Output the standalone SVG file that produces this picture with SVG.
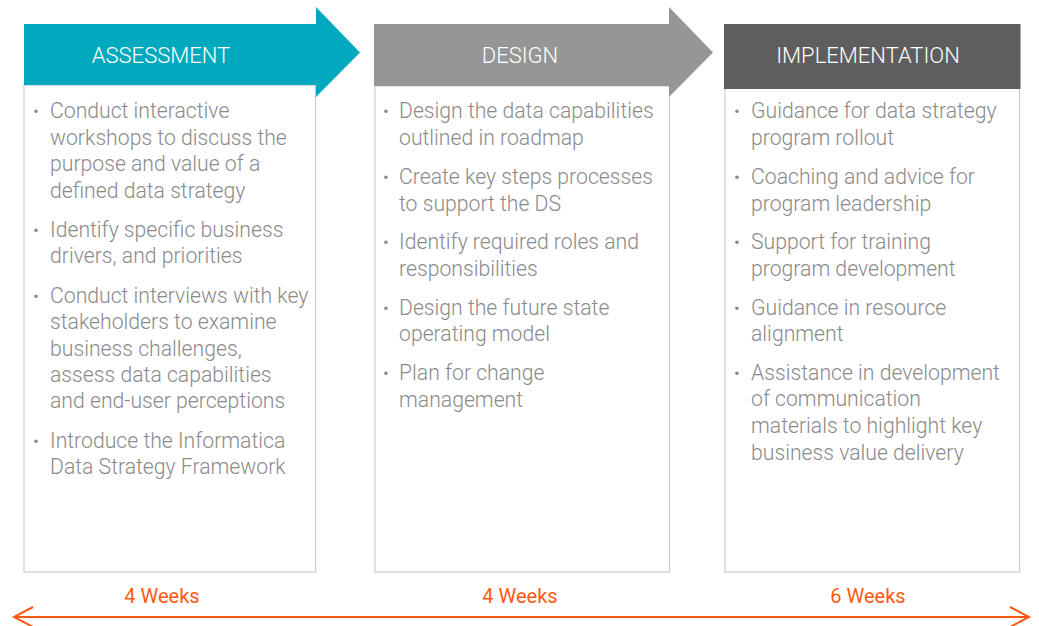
<svg xmlns="http://www.w3.org/2000/svg" width="1039" height="626" viewBox="0 0 1039 626">
  <style>
    .box { fill: #ffffff; stroke: #cccccc; stroke-width: 1.2; }
    .head { font-family: Roboto, "Liberation Sans", sans-serif; font-weight: 300; font-size: 22px; fill: #ffffff; text-anchor: middle; }
    .body { font-family: Roboto, "Liberation Sans", sans-serif; font-weight: 300; font-size: 21.2px; fill: #8a8a8a; }
    .dot { font-family: Roboto, "Liberation Sans", sans-serif; font-size: 17px; fill: #8a8a8a; }
    .dur { font-family: Roboto, "Liberation Sans", sans-serif; font-weight: 400; font-size: 20px; fill: #ff5a14; text-anchor: middle; }
    .timeline { stroke: #ff5a14; stroke-width: 2; fill: none; }
  </style>
  <rect width="1039" height="626" fill="#ffffff"/>

  <!-- Phase 1 -->
  <g id="assessment">
    <rect class="box" x="24" y="85" width="291.5" height="487"/>
    <polygon points="24,24 316,24 316,7 360,52.5 316,97 316,85 24,85" fill="#00a9bd"/>
    <text class="head" x="161" y="63">ASSESSMENT</text>
    <g class="body">
      <text x="50" y="118">Conduct interactive</text>
      <text x="50" y="145">workshops to discuss the</text>
      <text x="50" y="171">purpose and value of a</text>
      <text x="50" y="198">defined data strategy</text>
      <text x="50" y="237">Identify specific business</text>
      <text x="50" y="263">drivers, and priorities</text>
      <text x="50" y="303">Conduct interviews with key</text>
      <text x="50" y="329">stakeholders to examine</text>
      <text x="50" y="356">business challenges,</text>
      <text x="50" y="382">assess data capabilities</text>
      <text x="50" y="408">and end-user perceptions</text>
      <text x="50" y="448">Introduce the Informatica</text>
      <text x="50" y="474">Data Strategy Framework</text>
    </g>
    <g class="dot">
      <text x="33" y="117">•</text>
      <text x="33" y="236">•</text>
      <text x="33" y="302">•</text>
      <text x="33" y="447">•</text>
    </g>
  </g>

  <!-- Phase 2 -->
  <g id="design">
    <rect class="box" x="375" y="86" width="294.5" height="486"/>
    <polygon points="374,24 669,24 669,7 713,52.5 669,97 669,86 374,86" fill="#969696"/>
    <text class="head" x="520" y="63">DESIGN</text>
    <g class="body">
      <text x="399" y="118">Design the data capabilities</text>
      <text x="399" y="145">outlined in roadmap</text>
      <text x="399" y="184">Create key steps processes</text>
      <text x="399" y="211">to support the DS</text>
      <text x="399" y="249">Identify required roles and</text>
      <text x="399" y="276">responsibilities</text>
      <text x="399" y="315">Design the future state</text>
      <text x="399" y="341">operating model</text>
      <text x="399" y="380">Plan for change</text>
      <text x="399" y="407">management</text>
    </g>
    <g class="dot">
      <text x="383" y="117">•</text>
      <text x="383" y="183">•</text>
      <text x="383" y="248">•</text>
      <text x="383" y="314">•</text>
      <text x="383" y="379">•</text>
    </g>
  </g>

  <!-- Phase 3 -->
  <g id="implementation">
    <rect class="box" x="725" y="88" width="294.5" height="484"/>
    <rect x="724" y="24" width="296.5" height="65" fill="#5e5e5e"/>
    <text class="head" x="868" y="63">IMPLEMENTATION</text>
    <g class="body">
      <text x="751" y="118">Guidance for data strategy</text>
      <text x="751" y="145">program rollout</text>
      <text x="751" y="184">Coaching and advice for</text>
      <text x="751" y="211">program leadership</text>
      <text x="751" y="249">Support for training</text>
      <text x="751" y="276">program development</text>
      <text x="751" y="315">Guidance in resource</text>
      <text x="751" y="341">alignment</text>
      <text x="751" y="380">Assistance in development</text>
      <text x="751" y="406">of communication</text>
      <text x="751" y="433">materials to highlight key</text>
      <text x="751" y="460">business value delivery</text>
    </g>
    <g class="dot">
      <text x="734" y="117">•</text>
      <text x="734" y="183">•</text>
      <text x="734" y="248">•</text>
      <text x="734" y="314">•</text>
      <text x="734" y="379">•</text>
    </g>
  </g>

  <!-- Timeline -->
  <g id="connectors">
    <line class="timeline" x1="14" y1="617" x2="1029" y2="617"/>
    <polyline class="timeline" points="33,607 14,617 33,627"/>
    <polyline class="timeline" points="1010,607 1029,617 1010,627"/>
  </g>
  <g id="durations">
    <text class="dur" x="162" y="603">4 Weeks</text>
    <text class="dur" x="520" y="603">4 Weeks</text>
    <text class="dur" x="868" y="603">6 Weeks</text>
  </g>
</svg>
